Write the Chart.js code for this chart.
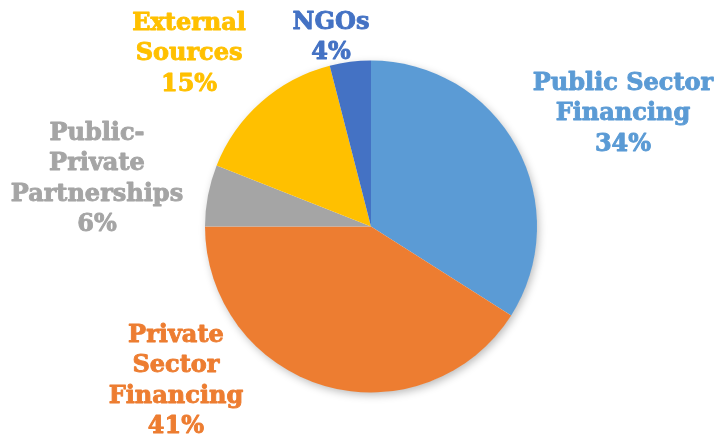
<!DOCTYPE html>
<html>
<head>
<meta charset="utf-8">
<script src="https://cdn.jsdelivr.net/npm/chart.js@4.4.1/dist/chart.umd.min.js"></script>
<style>
  html, body { margin: 0; padding: 0; background: #ffffff; }
  #wrap { width: 719px; height: 439px; position: relative; }
</style>
</head>
<body>
<div id="wrap"><canvas id="c" width="719" height="439"></canvas></div>
<script>
// ---- data ----
const categories = ["Public Sector Financing", "Private Sector Financing", "Public-Private Partnerships", "External Sources", "NGOs"];
const shares = [34, 41, 6, 15, 4];
// label lines as wrapped in the reference
const labelLines = [
  ["Public Sector", "Financing"],
  ["Private", "Sector", "Financing"],
  ["Public-", "Private", "Partnerships"],
  ["External", "Sources"],
  ["NGOs"]
];
const sliceColors = ["#5B9BD5", "#ED7D31", "#A5A5A5", "#FFC000", "#4472C4"];
// label block centres, in units of the pie radius, relative to the pie centre
const labelOffsets = [
  [1.518, -0.678],
  [-1.175, 0.931],
  [-1.651, -0.286],
  [-1.096, -1.039],
  [-0.241, -1.136]
];

const FONT = 'bold 24px "DejaVu Serif"';
const LINE_H = 30.5;

const shadowPlugin = {
  id: 'pieShadow',
  beforeDatasetsDraw(chart) {
    const arc = chart.getDatasetMeta(0).data[0];
    if (!arc) return;
    const ctx = chart.ctx;
    ctx.save();
    ctx.shadowColor = 'rgba(0,0,0,0.28)';
    ctx.shadowBlur = 9;
    ctx.shadowOffsetX = 2;
    ctx.shadowOffsetY = 3;
    ctx.fillStyle = '#ffffff';
    ctx.beginPath();
    ctx.arc(arc.x, arc.y, arc.outerRadius - 0.5, 0, Math.PI * 2);
    ctx.fill();
    ctx.restore();
  }
};

const labelPlugin = {
  id: 'pieLabels',
  afterDatasetsDraw(chart) {
    const meta = chart.getDatasetMeta(0);
    const ctx = chart.ctx;
    ctx.save();
    ctx.font = FONT;
    ctx.textAlign = 'center';
    ctx.textBaseline = 'middle';
    ctx.lineJoin = 'round';
    ctx.lineWidth = 0.9;
    meta.data.forEach((arc, i) => {
      const r = arc.outerRadius;
      const cx = arc.x + labelOffsets[i][0] * r;
      const cy = arc.y + labelOffsets[i][1] * r;
      const lines = labelLines[i].concat([shares[i] + "%"]);
      const top = cy - (lines.length - 1) * LINE_H / 2;
      ctx.fillStyle = sliceColors[i];
      ctx.strokeStyle = sliceColors[i];
      lines.forEach((t, k) => {
        ctx.fillText(t, cx, top + k * LINE_H);
        ctx.strokeText(t, cx, top + k * LINE_H);
      });
    });
    ctx.restore();
  }
};

new Chart(document.getElementById('c'), {
  type: 'pie',
  data: {
    labels: categories,
    datasets: [{
      data: shares,
      backgroundColor: sliceColors,
      borderWidth: 0,
      hoverOffset: 0
    }]
  },
  options: {
    responsive: false,
    animation: false,
    rotation: 0,
    layout: { padding: { left: 205, right: 182, top: 60, bottom: 46 } },
    plugins: {
      legend: { display: false },
      tooltip: { enabled: false }
    }
  },
  plugins: [shadowPlugin, labelPlugin]
});
</script>
</body>
</html>
